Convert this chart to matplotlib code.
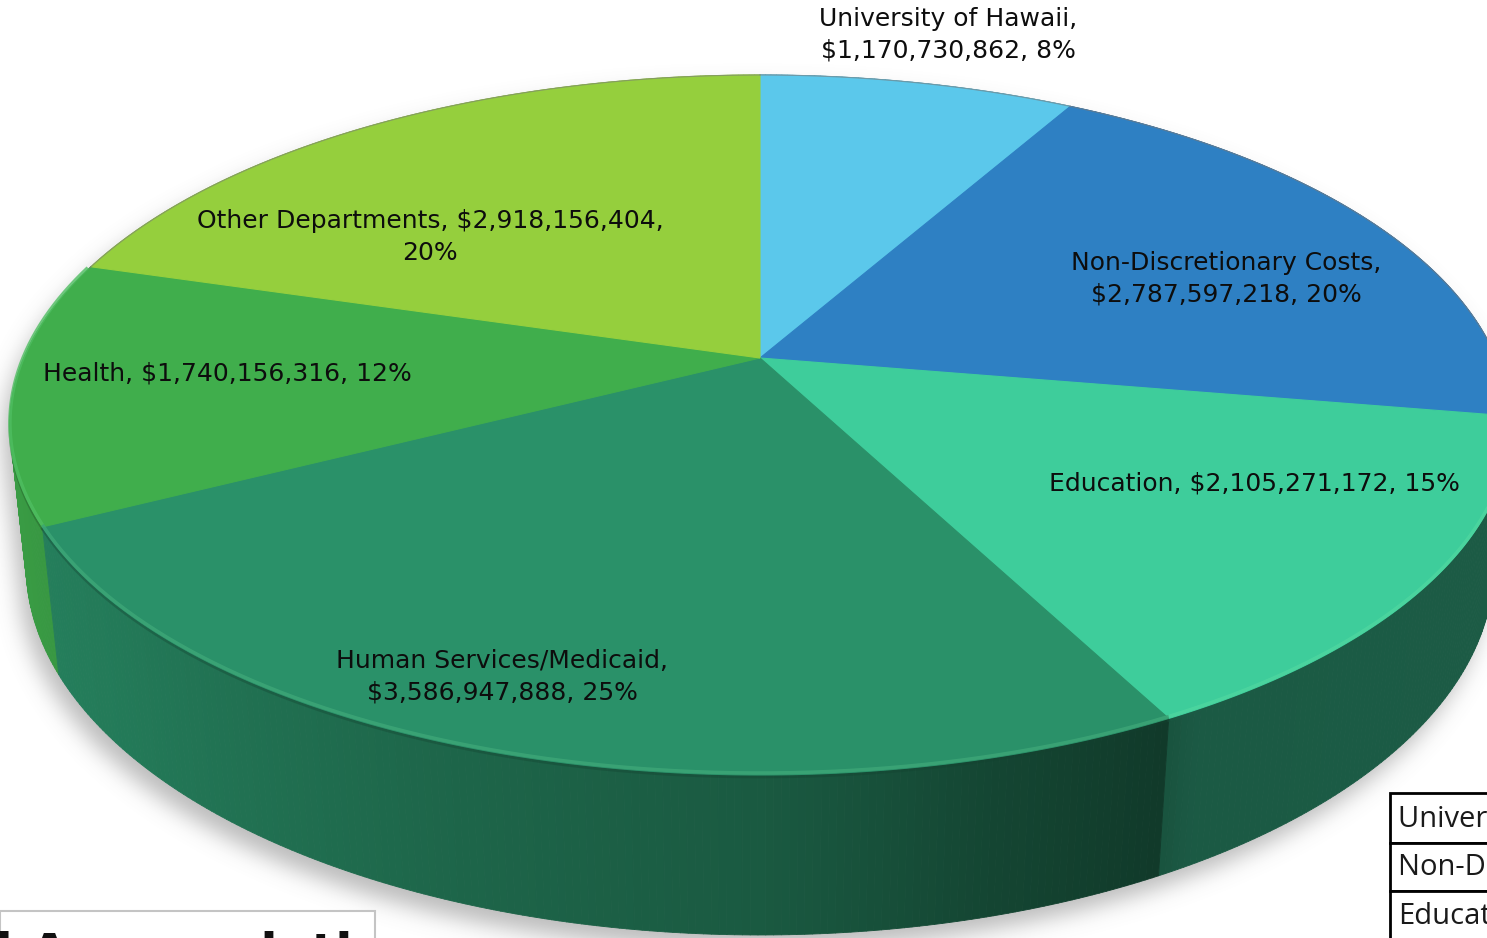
import numpy as np
import matplotlib
matplotlib.use("Agg")
import matplotlib.pyplot as plt
from matplotlib.path import Path
from matplotlib.patches import Polygon, Rectangle
from matplotlib.collections import PolyCollection

# ---------------- data ----------------
categories = ["University of Hawaii", "Non-Discretionary Costs", "Education",
              "Human Services/Medicaid", "Health", "Other Departments"]
values = [1170730862, 2787597218, 2105271172, 3586947888, 1740156316, 2918156404]
pct_labels = ["8%", "20%", "15%", "25%", "12%", "20%"]
colors = ["#5bc8eb", "#2e80c3", "#3ecd9b", "#2a9169", "#40ae4c", "#95cf3d"]
table_rows = ["University of Hawaii", "Non-Discretionary Costs", "Education"]
box_title = "Total Appropriations"

# ---------------- layout ----------------
W, H = 1487, 938
CX, CY = 760, 358          # projected pie centre
K, S = 0.1914, 0.458       # perspective / tilt
C = np.sqrt(1 - S ** 2)
D = C / K
G = 736.2
HT = 0.2165                # thickness

# label layout: (x, y, break position)
label_layout = [(948, 35, "name"), (1226, 279, "name"), (1254, 483, None),
                (502, 677, "name"), (227, 373, None), (430, 237, "value")]


def proj(theta, z=0.0):
    X = np.sin(theta)
    Y = np.cos(theta)
    den = 1 + Y * K - z * S / D
    x = CX + X * G / den
    y = CY - (Y * S + z * C) * G / den
    return x, y


def hex2rgb(h):
    h = h.lstrip("#")
    return np.array([int(h[i:i + 2], 16) / 255 for i in (0, 2, 4)])


shade_ang = [0, 90, 150, 153, 165, 180, 200, 230, 250, 280, 360]
shade_val = [0.45, 0.45, 0.44, 0.40, 0.48, 0.62, 0.70, 0.84, 0.89, 0.92, 0.9]

fig = plt.figure(figsize=(W / 100, H / 100), dpi=100)
ax = fig.add_axes([0, 0, 1, 1])
ax.set_xlim(0, W)
ax.set_ylim(H, 0)
ax.axis("off")

vals = np.array(values, dtype=float)
fr = vals / vals.sum()
bounds = np.concatenate([[0], np.cumsum(fr)]) * 2 * np.pi

# ---------------- shadow ----------------
tt = np.linspace(0, 2 * np.pi, 721)
pts = np.vstack([np.column_stack(proj(tt, 0.0)), np.column_stack(proj(tt, -HT))])


def hull(p):
    p = sorted(map(tuple, p))
    def cross(o, a, b):
        return (a[0] - o[0]) * (b[1] - o[1]) - (a[1] - o[1]) * (b[0] - o[0])
    lo, up = [], []
    for q in p:
        while len(lo) >= 2 and cross(lo[-2], lo[-1], q) <= 0:
            lo.pop()
        lo.append(q)
    for q in reversed(p):
        while len(up) >= 2 and cross(up[-2], up[-1], q) <= 0:
            up.pop()
        up.append(q)
    return np.array(lo[:-1] + up[:-1])


hp = hull(pts)
f = 2
PAD = 120
xs_g = np.arange(-PAD, W + PAD, f) + f / 2
ys_g = np.arange(-PAD, H + PAD, f) + f / 2
gx, gy = np.meshgrid(xs_g, ys_g)
sh_path = Path(hp + np.array([-7, 14]))
mask = sh_path.contains_points(np.column_stack([gx.ravel(), gy.ravel()])).reshape(gx.shape).astype(float)
sig = 11 / f
ny, nx = mask.shape
ky = np.fft.fftfreq(ny)[:, None]
kx = np.fft.fftfreq(nx)[None, :]
kern = np.exp(-2 * (np.pi ** 2) * (sig ** 2) * (kx ** 2 + ky ** 2))
blur = np.real(np.fft.ifft2(np.fft.fft2(mask) * kern))
blur = np.clip(blur, 0, 1)
rgba = np.zeros((ny, nx, 4))
rgba[..., :3] = 0.45
rgba[..., 3] = blur * 0.48
ax.imshow(rgba, extent=(-PAD, W + PAD, H + PAD, -PAD), interpolation="bilinear", zorder=0)
ax.set_xlim(0, W)
ax.set_ylim(H, 0)

# ---------------- side walls ----------------
polys, cols, depth = [], [], []
for i in range(len(values)):
    a, b = bounds[i], bounds[i + 1]
    n = max(2, int(np.degrees(b - a) / 0.5))
    ts = np.linspace(a, b, n + 1)
    base = hex2rgb(colors[i])
    for j in range(n):
        t0, t1 = ts[j], ts[j + 1]
        tm = 0.5 * (t0 + t1)
        x0, y0 = proj(t0, 0.0)
        x1, y1 = proj(t1, 0.0)
        x2, y2 = proj(t1, -HT)
        x3, y3 = proj(t0, -HT)
        polys.append([(x0, y0), (x1, y1), (x2, y2), (x3, y3)])
        sh = np.interp(np.degrees(tm), shade_ang, shade_val)
        cols.append(np.clip(base * sh, 0, 1))
        depth.append(np.cos(tm))
order = np.argsort(depth)[::-1]
pc = PolyCollection([polys[o] for o in order], facecolors=[cols[o] for o in order],
                    edgecolors=[cols[o] for o in order], linewidths=0.6, zorder=2)
ax.add_collection(pc)

# ---------------- top faces ----------------
for i in range(len(values)):
    a, b = bounds[i], bounds[i + 1]
    ts = np.linspace(a, b, 200)
    xs, ys = proj(ts, 0.0)
    verts = np.vstack([[CX, CY], np.column_stack([xs, ys])])
    ax.add_patch(Polygon(verts, closed=True, facecolor=colors[i], edgecolor=colors[i],
                         linewidth=0.8, zorder=3))
    # rim highlight on the front edge
    lo_, hi_ = max(a, np.radians(95)), min(b, np.radians(286))
    if hi_ > lo_:
        tr = np.linspace(lo_, hi_, 150)
        rx, ry = proj(tr, 0.0)
        light = np.clip(hex2rgb(colors[i]) * 0.8 + 0.2 * np.array([0.55, 1, 0.7]), 0, 1)
        ax.plot(rx, ry - 2, color=light, lw=2.5, alpha=0.8, zorder=4, solid_capstyle="butt")
        ax.plot(rx, ry + 2, color=hex2rgb(colors[i]) * 0.45, lw=2.0, alpha=0.35, zorder=2.5)
    # thin outline on the back edge
    tb = np.linspace(a, b, 150)
    keep = (tb < np.radians(95)) | (tb > np.radians(286))
    if keep.any():
        bx, by = proj(tb, 0.0)
        bx = np.where(keep, bx, np.nan)
        ax.plot(bx, by, color="#7a7a7a", lw=0.8, alpha=0.6, zorder=4)

# ---------------- labels ----------------
for i, (lx, ly, brk) in enumerate(label_layout):
    name = categories[i]
    money = "${:,}".format(values[i])
    pct = pct_labels[i]
    if brk == "name":
        txt = f"{name},\n{money}, {pct}"
    elif brk == "value":
        txt = f"{name}, {money},\n{pct}"
    else:
        txt = f"{name}, {money}, {pct}"
    ax.text(lx, ly, txt, ha="center", va="center", multialignment="center",
            fontsize=18, color="#0d0d0d", family="DejaVu Sans", linespacing=1.38, zorder=6)

# ---------------- bottom-left box ----------------
ax.add_patch(Rectangle((0, 911), 375, 60, facecolor="white", edgecolor="#c4c4c4",
                       linewidth=1.5, zorder=7, clip_on=False))
ax.text(-124, 969, box_title, ha="left", va="baseline", fontsize=36, fontweight="bold",
        color="#111111", family="DejaVu Sans", zorder=8, clip_on=False)

# ---------------- bottom-right table ----------------
row_y = [793, 843, 891]
row_h = [50, 48, 48]
for r, txt in enumerate(table_rows):
    ax.add_patch(Rectangle((1390, row_y[r]), 400, row_h[r], facecolor="white",
                           edgecolor="black", linewidth=2, zorder=7, clip_on=False))
    ax.text(1398, row_y[r] + row_h[r] / 2 + 1, txt, ha="left", va="center", fontsize=21,
            color="#1a1a1a", family="Open Sans", zorder=8, clip_on=False)

fig.savefig("out.png", dpi=100)
